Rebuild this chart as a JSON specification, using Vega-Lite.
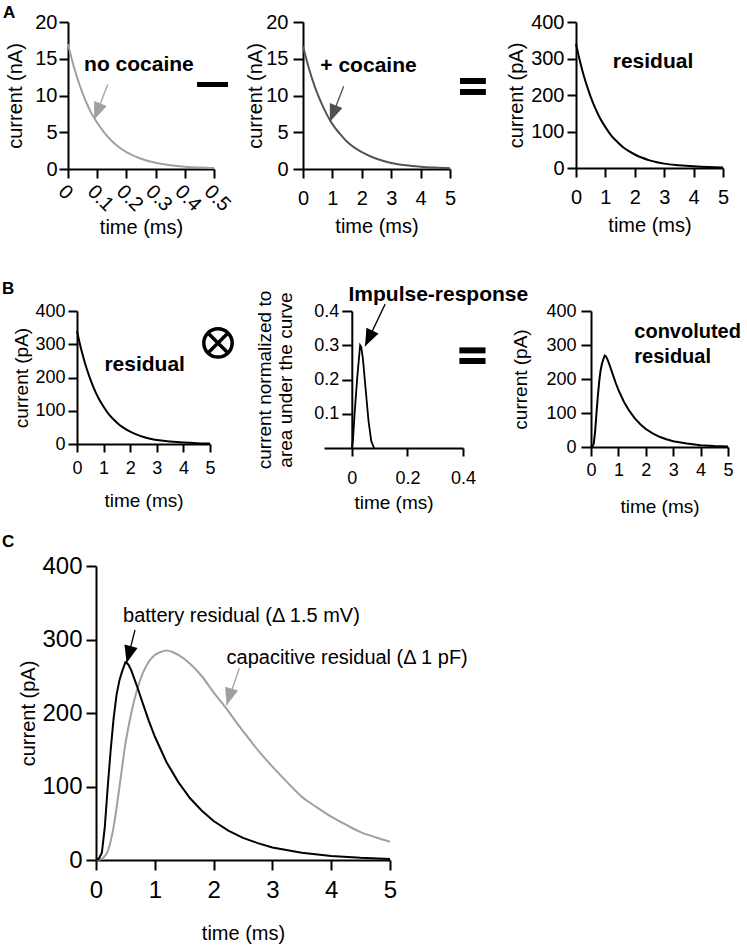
{
  "$schema": "https://vega.github.io/schema/vega-lite/v6.json",
  "background": "white",
  "padding": {"left": 1, "top": 4, "right": 2, "bottom": 2},
  "datasets": {
    "noCocaine": [
      {"t": 0, "i": 17}, {"t": 0.02, "i": 13.9}, {"t": 0.04, "i": 11.4}, {"t": 0.06, "i": 9.3},
      {"t": 0.08, "i": 7.6}, {"t": 0.1, "i": 6.3}, {"t": 0.125, "i": 4.9}, {"t": 0.15, "i": 3.8},
      {"t": 0.175, "i": 2.95}, {"t": 0.2, "i": 2.3}, {"t": 0.25, "i": 1.4}, {"t": 0.3, "i": 0.85},
      {"t": 0.35, "i": 0.51}, {"t": 0.4, "i": 0.31}, {"t": 0.45, "i": 0.19}, {"t": 0.5, "i": 0.12}
    ],
    "plusCocaine": [
      {"t": 0, "i": 16.7}, {"t": 0.2, "i": 13.7}, {"t": 0.4, "i": 11.2}, {"t": 0.6, "i": 9.2},
      {"t": 0.8, "i": 7.5}, {"t": 1, "i": 6.1}, {"t": 1.25, "i": 4.8}, {"t": 1.5, "i": 3.7},
      {"t": 1.75, "i": 2.9}, {"t": 2, "i": 2.3}, {"t": 2.5, "i": 1.4}, {"t": 3, "i": 0.83},
      {"t": 3.5, "i": 0.5}, {"t": 4, "i": 0.31}, {"t": 4.5, "i": 0.19}, {"t": 5, "i": 0.11}
    ],
    "residual": [
      {"t": 0, "i": 340}, {"t": 0.1, "i": 304}, {"t": 0.2, "i": 272}, {"t": 0.3, "i": 243},
      {"t": 0.4, "i": 218}, {"t": 0.5, "i": 195}, {"t": 0.6, "i": 174}, {"t": 0.8, "i": 139},
      {"t": 1, "i": 112}, {"t": 1.2, "i": 89}, {"t": 1.4, "i": 72}, {"t": 1.6, "i": 57},
      {"t": 1.8, "i": 46}, {"t": 2, "i": 37}, {"t": 2.25, "i": 28}, {"t": 2.5, "i": 21},
      {"t": 2.75, "i": 16}, {"t": 3, "i": 12}, {"t": 3.5, "i": 7.6}, {"t": 4, "i": 4.5},
      {"t": 4.5, "i": 2.5}, {"t": 5, "i": 1.5}
    ],
    "impulse": [
      {"t": 0, "i": 0}, {"t": 0.004, "i": 0.02}, {"t": 0.01, "i": 0.1}, {"t": 0.02, "i": 0.21},
      {"t": 0.03, "i": 0.3}, {"t": 0.034, "i": 0.295}, {"t": 0.04, "i": 0.26}, {"t": 0.05, "i": 0.17},
      {"t": 0.06, "i": 0.08}, {"t": 0.07, "i": 0.02}, {"t": 0.08, "i": 0}
    ],
    "battery": [
      {"t": 0, "i": 0}, {"t": 0.05, "i": 2}, {"t": 0.1, "i": 10}, {"t": 0.15, "i": 45},
      {"t": 0.2, "i": 100}, {"t": 0.25, "i": 150}, {"t": 0.3, "i": 193}, {"t": 0.35, "i": 225},
      {"t": 0.4, "i": 245}, {"t": 0.45, "i": 258}, {"t": 0.5, "i": 269}, {"t": 0.55, "i": 266},
      {"t": 0.6, "i": 258}, {"t": 0.7, "i": 236}, {"t": 0.8, "i": 212}, {"t": 0.9, "i": 189},
      {"t": 1, "i": 168}, {"t": 1.2, "i": 133}, {"t": 1.4, "i": 106}, {"t": 1.6, "i": 84},
      {"t": 1.8, "i": 67}, {"t": 2, "i": 53}, {"t": 2.25, "i": 40}, {"t": 2.5, "i": 30},
      {"t": 2.75, "i": 23}, {"t": 3, "i": 17}, {"t": 3.5, "i": 10}, {"t": 4, "i": 5.5},
      {"t": 4.5, "i": 3}, {"t": 5, "i": 1.5}
    ],
    "capacitive": [
      {"t": 0, "i": 0}, {"t": 0.1, "i": 2}, {"t": 0.2, "i": 12}, {"t": 0.3, "i": 45},
      {"t": 0.4, "i": 100}, {"t": 0.5, "i": 158}, {"t": 0.6, "i": 200}, {"t": 0.7, "i": 232},
      {"t": 0.8, "i": 255}, {"t": 0.9, "i": 270}, {"t": 1, "i": 279}, {"t": 1.1, "i": 283},
      {"t": 1.2, "i": 285}, {"t": 1.3, "i": 283}, {"t": 1.4, "i": 279}, {"t": 1.6, "i": 267},
      {"t": 1.8, "i": 250}, {"t": 2, "i": 228}, {"t": 2.2, "i": 208}, {"t": 2.4, "i": 186},
      {"t": 2.6, "i": 165}, {"t": 2.8, "i": 145}, {"t": 3, "i": 127}, {"t": 3.25, "i": 106},
      {"t": 3.5, "i": 86}, {"t": 3.75, "i": 72}, {"t": 4, "i": 59}, {"t": 4.25, "i": 48},
      {"t": 4.5, "i": 38}, {"t": 4.75, "i": 31}, {"t": 5, "i": 25}
    ]
  },
  "config": {
    "view": {"stroke": null},
    "font": "Liberation Sans",
    "axis": {
      "domainColor": "black", "domainWidth": 2, "tickColor": "black", "tickWidth": 2,
      "grid": false, "labelFont": "Liberation Sans", "labelColor": "black",
      "titleFont": "Liberation Sans", "titleFontWeight": "normal", "titleColor": "black",
      "labelFlush": false, "labelOverlap": false, "tickCount": 10
    }
  },
  "spacing": 16,
  "vconcat": [
    {
      "spacing": 42,
      "vconcat": [
        {
          "spacing": 1,
          "bounds": "flush",
          "hconcat": [
            {"width": 1, "height": 1, "data": {"values": []}, "mark": "point"},
            {
              "width": 146, "height": 147,
              "layer": [
                {
                  "data": {"name": "noCocaine"},
                  "mark": {"type": "line", "color": "#a0a0a0", "strokeWidth": 2, "interpolate": "monotone"},
                  "encoding": {
                    "x": {"field": "t", "type": "quantitative", "scale": {"domain": [0, 0.5], "nice": false},
                      "axis": {"values": [0, 0.1, 0.2, 0.3, 0.4, 0.5], "tickCount": 10, "format": "~f", "labelOverlap": false, "labelAngle": 45, "labelFontSize": 20, "tickSize": 9, "labelPadding": 3, "title": "time (ms)", "titleFontSize": 20, "titlePadding": 3}},
                    "y": {"field": "i", "type": "quantitative", "scale": {"domain": [0, 20], "nice": false},
                      "axis": {"values": [0, 5, 10, 15, 20], "tickCount": 10, "format": "d", "labelOverlap": false, "labelFontSize": 20, "tickSize": 9, "labelPadding": 2, "title": "current (nA)", "titleFontSize": 20, "titlePadding": 9}}
                  }
                },
                {
                  "data": {"values": [{"t": 0.055, "i": 13.3, "label": "no cocaine"}]},
                  "mark": {"type": "text", "align": "left", "baseline": "alphabetic", "fontSize": 21, "fontWeight": "bold", "color": "black"},
                  "encoding": {"x": {"field": "t", "type": "quantitative"}, "y": {"field": "i", "type": "quantitative"}, "text": {"field": "label"}}
                },
                {
                  "data": {"values": [{"t": -0.223, "i": 20.5, "label": "A"}]},
                  "mark": {"type": "text", "align": "left", "baseline": "alphabetic", "fontSize": 17, "fontWeight": "bold", "color": "black"},
                  "encoding": {"x": {"field": "t", "type": "quantitative"}, "y": {"field": "i", "type": "quantitative"}, "text": {"field": "label"}}
                },
                {
                  "data": {"values": [{"t": 0.136, "i": 11.5, "t2": 0.09, "i2": 6.76}]},
                  "mark": {"type": "rule", "color": "#a0a0a0", "strokeWidth": 1.3},
                  "encoding": {"x": {"field": "t", "type": "quantitative"}, "y": {"field": "i", "type": "quantitative"}, "x2": {"field": "t2"}, "y2": {"field": "i2"}}
                },
                {
                  "data": {"values": [{"t": 0.1003, "i": 7.81}]},
                  "mark": {"type": "point", "shape": "M0,-1L0.78,1L-0.78,1Z", "angle": 201, "size": 300, "filled": true, "color": "#a0a0a0", "opacity": 1},
                  "encoding": {"x": {"field": "t", "type": "quantitative"}, "y": {"field": "i", "type": "quantitative"}}
                },
                {
                  "data": {"values": [{"t": 0.442, "i": 11.5, "t2": 0.548}]},
                  "mark": {"type": "rule", "color": "black", "strokeWidth": 5},
                  "encoding": {"x": {"field": "t", "type": "quantitative"}, "y": {"field": "i", "type": "quantitative"}, "x2": {"field": "t2"}}
                }
              ]
            },
            {"width": 87, "height": 1, "data": {"values": []}, "mark": "point"},
            {
              "width": 147, "height": 147,
              "layer": [
                {
                  "data": {"name": "plusCocaine"},
                  "mark": {"type": "line", "color": "#555555", "strokeWidth": 2, "interpolate": "monotone"},
                  "encoding": {
                    "x": {"field": "t", "type": "quantitative", "scale": {"domain": [0, 5], "nice": false},
                      "axis": {"values": [0, 1, 2, 3, 4, 5], "tickCount": 10, "format": "d", "labelOverlap": false, "labelFontSize": 20, "tickSize": 9, "labelPadding": 10, "title": "time (ms)", "titleFontSize": 20, "titlePadding": 8}},
                    "y": {"field": "i", "type": "quantitative", "scale": {"domain": [0, 20], "nice": false},
                      "axis": {"values": [0, 5, 10, 15, 20], "tickCount": 10, "format": "d", "labelOverlap": false, "labelFontSize": 20, "tickSize": 10, "labelPadding": 5, "title": "current (nA)", "titleFontSize": 20, "titlePadding": 0}}
                  }
                },
                {
                  "data": {"values": [{"t": 0.59, "i": 13.2, "label": "+ cocaine"}]},
                  "mark": {"type": "text", "align": "left", "baseline": "alphabetic", "fontSize": 21, "fontWeight": "bold", "color": "black"},
                  "encoding": {"x": {"field": "t", "type": "quantitative"}, "y": {"field": "i", "type": "quantitative"}, "text": {"field": "label"}}
                },
                {
                  "data": {"values": [{"t": 1.384, "i": 11.25, "t2": 0.918, "i2": 6.42}]},
                  "mark": {"type": "rule", "color": "#505050", "strokeWidth": 1.3},
                  "encoding": {"x": {"field": "t", "type": "quantitative"}, "y": {"field": "i", "type": "quantitative"}, "x2": {"field": "t2"}, "y2": {"field": "i2"}}
                },
                {
                  "data": {"values": [{"t": 1.02, "i": 7.54}]},
                  "mark": {"type": "point", "shape": "M0,-1L0.78,1L-0.78,1Z", "angle": 201, "size": 300, "filled": true, "color": "#505050", "opacity": 1},
                  "encoding": {"x": {"field": "t", "type": "quantitative"}, "y": {"field": "i", "type": "quantitative"}}
                },
                {
                  "data": {"values": [{"t": 5.34, "i": 11.97, "t2": 6.22}, {"t": 5.34, "i": 10.48, "t2": 6.22}]},
                  "mark": {"type": "rule", "color": "black", "strokeWidth": 6},
                  "encoding": {"x": {"field": "t", "type": "quantitative"}, "y": {"field": "i", "type": "quantitative"}, "x2": {"field": "t2"}}
                }
              ]
            },
            {"width": 124, "height": 1, "data": {"values": []}, "mark": "point"},
            {
              "width": 147, "height": 146,
              "layer": [
                {
                  "data": {"name": "residual"},
                  "mark": {"type": "line", "color": "black", "strokeWidth": 2, "interpolate": "monotone"},
                  "encoding": {
                    "x": {"field": "t", "type": "quantitative", "scale": {"domain": [0, 5], "nice": false},
                      "axis": {"values": [0, 1, 2, 3, 4, 5], "tickCount": 10, "format": "d", "labelOverlap": false, "labelFontSize": 20, "tickSize": 9, "labelPadding": 10, "title": "time (ms)", "titleFontSize": 20, "titlePadding": 8}},
                    "y": {"field": "i", "type": "quantitative", "scale": {"domain": [0, 400], "nice": false},
                      "axis": {"values": [0, 100, 200, 300, 400], "tickCount": 10, "format": "d", "labelOverlap": false, "labelFontSize": 20, "tickSize": 9, "labelPadding": 3, "title": "current (pA)", "titleFontSize": 20, "titlePadding": 4}}
                  }
                },
                {
                  "data": {"values": [{"t": 1.25, "i": 273, "label": "residual"}]},
                  "mark": {"type": "text", "align": "left", "baseline": "alphabetic", "fontSize": 21, "fontWeight": "bold", "color": "black"},
                  "encoding": {"x": {"field": "t", "type": "quantitative"}, "y": {"field": "i", "type": "quantitative"}, "text": {"field": "label"}}
                }
              ]
            }
          ]
        },
        {
          "spacing": 1,
          "bounds": "flush",
          "hconcat": [
            {"width": 10, "height": 1, "data": {"values": []}, "mark": "point"},
            {
              "width": 133, "height": 133,
              "layer": [
                {
                  "data": {"name": "residual"},
                  "mark": {"type": "line", "color": "black", "strokeWidth": 2, "interpolate": "monotone"},
                  "encoding": {
                    "x": {"field": "t", "type": "quantitative", "scale": {"domain": [0, 5], "nice": false},
                      "axis": {"values": [0, 1, 2, 3, 4, 5], "tickCount": 10, "format": "d", "labelOverlap": false, "labelFontSize": 18, "tickSize": 8, "labelPadding": 7, "title": "time (ms)", "titleFontSize": 19, "titlePadding": 14}},
                    "y": {"field": "i", "type": "quantitative", "scale": {"domain": [0, 400], "nice": false},
                      "axis": {"values": [0, 100, 200, 300, 400], "tickCount": 10, "format": "d", "labelOverlap": false, "labelFontSize": 18, "tickSize": 9, "labelPadding": 3, "title": "current (pA)", "titleFontSize": 19, "titlePadding": 3}}
                  }
                },
                {
                  "data": {"values": [{"t": 1.03, "i": 220, "label": "residual"}]},
                  "mark": {"type": "text", "align": "left", "baseline": "alphabetic", "fontSize": 21, "fontWeight": "bold", "color": "black"},
                  "encoding": {"x": {"field": "t", "type": "quantitative"}, "y": {"field": "i", "type": "quantitative"}, "text": {"field": "label"}}
                },
                {
                  "data": {"values": [{"t": -2.82, "i": 451, "label": "B"}]},
                  "mark": {"type": "text", "align": "left", "baseline": "alphabetic", "fontSize": 17, "fontWeight": "bold", "color": "black"},
                  "encoding": {"x": {"field": "t", "type": "quantitative"}, "y": {"field": "i", "type": "quantitative"}, "text": {"field": "label"}}
                },
                {
                  "data": {"values": [{"t": 5.3, "i": 304}]},
                  "mark": {"type": "point", "shape": "circle", "size": 804, "filled": false, "color": "black", "strokeWidth": 3.5, "opacity": 1},
                  "encoding": {"x": {"field": "t", "type": "quantitative"}, "y": {"field": "i", "type": "quantitative"}}
                },
                {
                  "data": {"values": [{"t": 5.3, "i": 304}]},
                  "mark": {"type": "point", "shape": "M-1,-1L1,1M-1,1L1,-1", "size": 400, "filled": false, "color": "black", "strokeWidth": 3.5, "opacity": 1},
                  "encoding": {"x": {"field": "t", "type": "quantitative"}, "y": {"field": "i", "type": "quantitative"}}
                }
              ]
            },
            {"width": 112, "height": 1, "data": {"values": []}, "mark": "point"},
            {
              "width": 139, "height": 137,
              "layer": [
                {
                  "data": {"name": "impulse"},
                  "mark": {"type": "line", "color": "black", "strokeWidth": 1.8},
                  "encoding": {
                    "x": {"field": "t", "type": "quantitative", "scale": {"domain": [-0.1, 0.4], "nice": false, "zero": false},
                      "axis": {"values": [0, 0.2, 0.4], "tickCount": 10, "format": "~f", "labelOverlap": false, "labelFontSize": 18, "tickSize": 8, "labelPadding": 13, "title": "time (ms)", "titleFontSize": 19, "titlePadding": 6}},
                    "y": {"field": "i", "type": "quantitative", "scale": {"domain": [0, 0.4], "nice": false},
                      "axis": {"values": [0.1, 0.2, 0.3, 0.4], "tickCount": 10, "format": "~f", "labelOverlap": false, "offset": -27.8, "labelFontSize": 18, "tickSize": 10, "labelPadding": 3, "title": ["current normalized to", "area under the curve"], "titleFontSize": 19, "titlePadding": 18}}
                  }
                },
                {
                  "data": {"values": [{"t": -0.012, "i": 0.429, "label": "Impulse-response"}]},
                  "mark": {"type": "text", "align": "left", "baseline": "alphabetic", "fontSize": 21, "fontWeight": "bold", "color": "black"},
                  "encoding": {"x": {"field": "t", "type": "quantitative"}, "y": {"field": "i", "type": "quantitative"}, "text": {"field": "label"}}
                },
                {
                  "data": {"values": [{"t": 0.12, "i": 0.42, "t2": 0.048, "i2": 0.298}]},
                  "mark": {"type": "rule", "color": "black", "strokeWidth": 1.3},
                  "encoding": {"x": {"field": "t", "type": "quantitative"}, "y": {"field": "i", "type": "quantitative"}, "x2": {"field": "t2"}, "y2": {"field": "i2"}}
                },
                {
                  "data": {"values": [{"t": 0.061, "i": 0.32}]},
                  "mark": {"type": "point", "shape": "M0,-1L0.78,1L-0.78,1Z", "angle": 205.6, "size": 300, "filled": true, "color": "black", "opacity": 1},
                  "encoding": {"x": {"field": "t", "type": "quantitative"}, "y": {"field": "i", "type": "quantitative"}}
                },
                {
                  "data": {"values": [{"t": 0.387, "i": 0.285, "t2": 0.481}, {"t": 0.387, "i": 0.254, "t2": 0.481}]},
                  "mark": {"type": "rule", "color": "black", "strokeWidth": 6},
                  "encoding": {"x": {"field": "t", "type": "quantitative"}, "y": {"field": "i", "type": "quantitative"}, "x2": {"field": "t2"}}
                }
              ]
            },
            {"width": 126, "height": 1, "data": {"values": []}, "mark": "point"},
            {
              "width": 137, "height": 136,
              "layer": [
                {
                  "data": {"name": "battery"},
                  "mark": {"type": "line", "color": "black", "strokeWidth": 2},
                  "encoding": {
                    "x": {"field": "t", "type": "quantitative", "scale": {"domain": [0, 5], "nice": false},
                      "axis": {"values": [0, 1, 2, 3, 4, 5], "tickCount": 10, "format": "d", "labelOverlap": false, "labelFontSize": 18, "tickSize": 9, "labelPadding": 5, "title": "time (ms)", "titleFontSize": 19, "titlePadding": 18}},
                    "y": {"field": "i", "type": "quantitative", "scale": {"domain": [0, 400], "nice": false},
                      "axis": {"values": [0, 100, 200, 300, 400], "tickCount": 10, "format": "d", "labelOverlap": false, "labelFontSize": 18, "tickSize": 10, "labelPadding": 5, "title": "current (pA)", "titleFontSize": 19, "titlePadding": 15}}
                  }
                },
                {
                  "data": {"values": [{"t": 1.58, "i": 320, "label": "convoluted"}, {"t": 1.58, "i": 247, "label": "residual"}]},
                  "mark": {"type": "text", "align": "left", "baseline": "alphabetic", "fontSize": 20, "fontWeight": "bold", "color": "black"},
                  "encoding": {"x": {"field": "t", "type": "quantitative"}, "y": {"field": "i", "type": "quantitative"}, "text": {"field": "label"}}
                }
              ]
            }
          ]
        }
      ]
    },
    {
      "spacing": 1,
      "bounds": "flush",
      "hconcat": [
        {"width": 29, "height": 1, "data": {"values": []}, "mark": "point"},
        {
          "width": 294, "height": 294,
          "layer": [
            {
              "data": {"name": "capacitive"},
              "mark": {"type": "line", "color": "#a0a0a0", "strokeWidth": 2, "interpolate": "monotone"},
              "encoding": {
                "x": {"field": "t", "type": "quantitative", "scale": {"domain": [0, 5], "nice": false},
                  "axis": {"values": [0, 1, 2, 3, 4, 5], "tickCount": 10, "format": "d", "labelOverlap": false, "labelFontSize": 24, "tickSize": 10, "labelPadding": 8, "title": "time (ms)", "titleFontSize": 20, "titlePadding": 21}},
                "y": {"field": "i", "type": "quantitative", "scale": {"domain": [0, 400], "nice": false},
                  "axis": {"values": [0, 100, 200, 300, 400], "tickCount": 10, "format": "d", "labelOverlap": false, "labelFontSize": 24, "tickSize": 10, "labelPadding": 4, "title": "current (pA)", "titleFontSize": 20, "titlePadding": 3}}
              }
            },
            {
              "data": {"name": "battery"},
              "mark": {"type": "line", "color": "black", "strokeWidth": 2},
              "encoding": {"x": {"field": "t", "type": "quantitative"}, "y": {"field": "i", "type": "quantitative"}}
            },
            {
              "data": {"values": [{"t": 0.46, "i": 324, "label": "battery residual (Δ 1.5 mV)"}, {"t": 2.22, "i": 267, "label": "capacitive residual (Δ 1 pF)"}]},
              "mark": {"type": "text", "align": "left", "baseline": "alphabetic", "fontSize": 20, "fontWeight": "normal", "color": "black"},
              "encoding": {"x": {"field": "t", "type": "quantitative"}, "y": {"field": "i", "type": "quantitative"}, "text": {"field": "label"}}
            },
            {
              "data": {"values": [{"t": -1.6, "i": 426, "label": "C"}]},
              "mark": {"type": "text", "align": "left", "baseline": "alphabetic", "fontSize": 17, "fontWeight": "bold", "color": "black"},
              "encoding": {"x": {"field": "t", "type": "quantitative"}, "y": {"field": "i", "type": "quantitative"}, "text": {"field": "label"}}
            },
            {
              "data": {"values": [{"t": 0.663, "i": 313, "t2": 0.522, "i2": 268.4}]},
              "mark": {"type": "rule", "color": "black", "strokeWidth": 1.3},
              "encoding": {"x": {"field": "t", "type": "quantitative"}, "y": {"field": "i", "type": "quantitative"}, "x2": {"field": "t2"}, "y2": {"field": "i2"}}
            },
            {
              "data": {"values": [{"t": 0.558, "i": 279.3}]},
              "mark": {"type": "point", "shape": "M0,-1L0.78,1L-0.78,1Z", "angle": 194.7, "size": 300, "filled": true, "color": "black", "opacity": 1},
              "encoding": {"x": {"field": "t", "type": "quantitative"}, "y": {"field": "i", "type": "quantitative"}}
            },
            {
              "data": {"values": [{"t": 2.437, "i": 261, "t2": 2.223, "i2": 210.9}]},
              "mark": {"type": "rule", "color": "#a0a0a0", "strokeWidth": 1.3},
              "encoding": {"x": {"field": "t", "type": "quantitative"}, "y": {"field": "i", "type": "quantitative"}, "x2": {"field": "t2"}, "y2": {"field": "i2"}}
            },
            {
              "data": {"values": [{"t": 2.264, "i": 221.8}]},
              "mark": {"type": "point", "shape": "M0,-1L0.78,1L-0.78,1Z", "angle": 196.6, "size": 300, "filled": true, "color": "#a0a0a0", "opacity": 1},
              "encoding": {"x": {"field": "t", "type": "quantitative"}, "y": {"field": "i", "type": "quantitative"}}
            }
          ]
        }
      ]
    }
  ]
}
